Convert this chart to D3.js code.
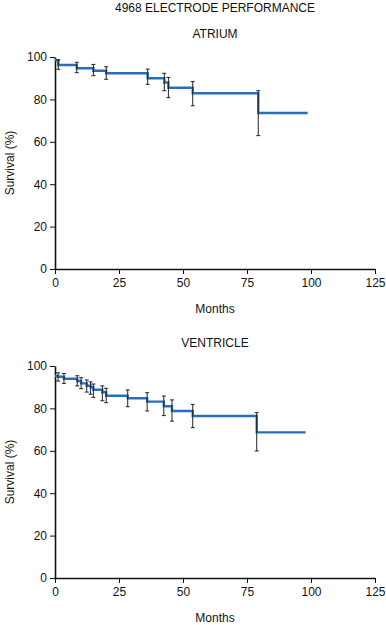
<!DOCTYPE html>
<html>
<head>
<meta charset="utf-8">
<script src="https://cdn.jsdelivr.net/npm/d3@7"></script>
<style>
  body { margin: 0; background: #fff; }
  text { font-family: "Liberation Sans", Arial, sans-serif; fill: #111; }
</style>
</head>
<body>
<div id="chart"></div>
<script>
// atrium survival curve (step points) and error bars
var atriumMonths   = [0, 1.3, 8.5, 15, 20, 36.2, 42.7, 44.3, 53.8, 79.4, 98.7];
var atriumSurvival = [98.5, 96.2, 94.7, 93.5, 92.3, 90, 88, 85.5, 82.9, 73.6, 73.6];
var atriumLow      = [null, 94.2, 92.6, 91.2, 89.5, 87.1, 84.1, 80.8, 77, 62.9, null];
var atriumHigh     = [null, 98.6, 97.5, 96.5, 95.4, 94.3, 92.3, 90.4, 88.4, 84.1, null];

// ventricle
var ventMonths   = [0, 1.2, 3.5, 8.7, 10.2, 12.4, 13.9, 15, 18.5, 20, 28.4, 36, 42.5, 45.7, 53.8, 78.8, 97.9];
var ventSurvival = [95.3, 94.9, 94, 92.9, 91.8, 90.7, 90, 88.8, 87.6, 86, 84.8, 83.2, 81, 78.8, 76.4, 68.7, 68.7];
var ventLow      = [null, 92.9, 91.8, 90.6, 89.3, 87.7, 86.7, 85.2, 83.6, 82.7, 80.8, 78.8, 76.6, 74, 70.9, 59.9, null];
var ventHigh     = [null, 96.8, 96.5, 95.4, 94.5, 93.4, 92.5, 91.5, 90.6, 89.5, 88.7, 87.4, 85.8, 84, 81.9, 78, null];

var xTicks = [0, 25, 50, 75, 100, 125];
var yTicks = [0, 20, 40, 60, 80, 100];

function init() {
    var W = 386, H = 625;
    var svg = d3.select("#chart").append("svg")
        .attr("width", W)
        .attr("height", H);

    svg.append("text")
        .attr("x", 215).attr("y", 12)
        .attr("text-anchor", "middle")
        .style("font-size", "12px")
        .text("4968 ELECTRODE PERFORMANCE");

    var x = d3.scaleLinear().domain([0, 125]).range([55, 375]);

    function panel(title, top, months, surv, low, high) {
        var y = d3.scaleLinear().domain([0, 100]).range([top + 212, top]);
        var g = svg.append("g");

        g.append("text")
            .attr("x", 215).attr("y", top - 19)
            .attr("text-anchor", "middle")
            .style("font-size", "12px")
            .text(title);

        var xAxis = g.append("g")
            .attr("transform", "translate(0," + y(0) + ")")
            .call(d3.axisBottom(x).tickValues(xTicks).tickSize(5).tickPadding(4).tickSizeOuter(0));
        var yAxis = g.append("g")
            .attr("transform", "translate(" + x(0) + ",0)")
            .call(d3.axisLeft(y).tickValues(yTicks).tickSize(5).tickPadding(3).tickSizeOuter(0));

        [xAxis, yAxis].forEach(function (a) {
            a.select(".domain").attr("stroke", "#111").attr("stroke-width", 1.6);
            a.selectAll(".tick line").attr("stroke", "#111").attr("stroke-width", 1);
            a.selectAll(".tick text").style("font-size", "12px").style("font-family", "Liberation Sans, Arial, sans-serif").attr("fill", "#111");
        });

        g.append("text")
            .attr("x", 215).attr("y", y(0) + 44)
            .attr("text-anchor", "middle")
            .style("font-size", "12px")
            .text("Months");

        g.append("text")
            .attr("transform", "translate(14," + y(50) + ") rotate(-90)")
            .attr("text-anchor", "middle")
            .style("font-size", "12px")
            .text("Survival (%)");

        var pts = months.map(function (m, i) { return [m, surv[i]]; });
        var line = d3.line()
            .x(function (d) { return x(d[0]); })
            .y(function (d) { return y(d[1]); })
            .curve(d3.curveStepAfter);

        g.append("path")
            .attr("d", line(pts))
            .attr("fill", "none")
            .attr("stroke", "#2a6ebb")
            .attr("stroke-width", 2.4);

        var bars = months.map(function (m, i) { return { m: m, lo: low[i], hi: high[i] }; })
            .filter(function (d) { return d.lo != null; });

        var eb = g.append("g").attr("stroke", "#222").attr("stroke-width", 1);
        eb.selectAll("line.v").data(bars).enter().append("line")
            .attr("x1", function (d) { return x(d.m); })
            .attr("x2", function (d) { return x(d.m); })
            .attr("y1", function (d) { return y(d.lo); })
            .attr("y2", function (d) { return y(d.hi); });
        eb.selectAll("line.t").data(bars).enter().append("line")
            .attr("x1", function (d) { return x(d.m) - 2; })
            .attr("x2", function (d) { return x(d.m) + 2; })
            .attr("y1", function (d) { return y(d.hi); })
            .attr("y2", function (d) { return y(d.hi); });
        eb.selectAll("line.b").data(bars).enter().append("line")
            .attr("x1", function (d) { return x(d.m) - 2; })
            .attr("x2", function (d) { return x(d.m) + 2; })
            .attr("y1", function (d) { return y(d.lo); })
            .attr("y2", function (d) { return y(d.lo); });
    }

    panel("ATRIUM", 57, atriumMonths, atriumSurvival, atriumLow, atriumHigh);
    panel("VENTRICLE", 366, ventMonths, ventSurvival, ventLow, ventHigh);
}

window.onload = init;
</script>
</body>
</html>
